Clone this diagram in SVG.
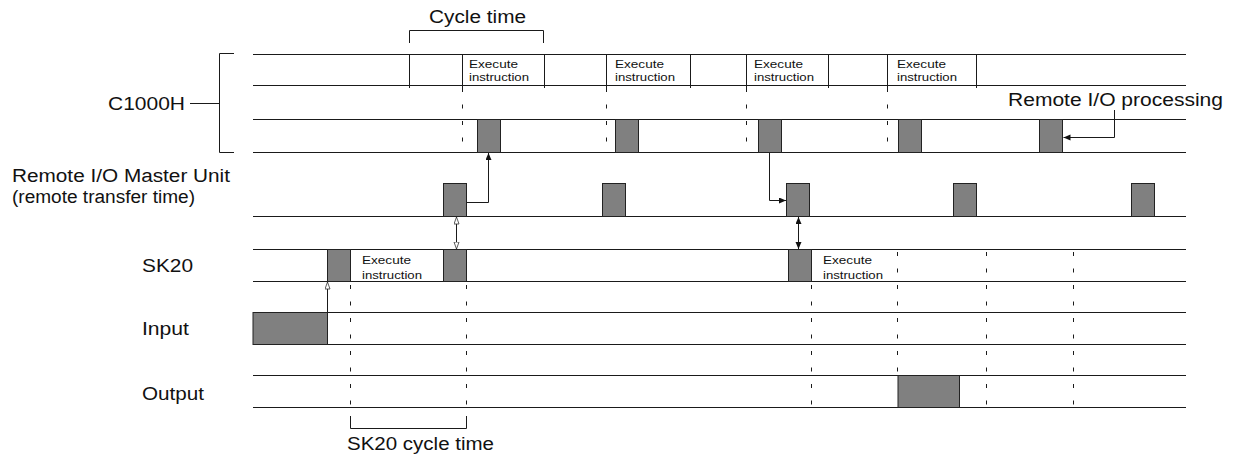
<svg xmlns="http://www.w3.org/2000/svg" width="1233" height="456" viewBox="0 0 1233 456">
<style>
  text { font-family: "Liberation Sans", Arial, sans-serif; fill: #111; }
  .lbl { font-size: 18px; }
  .sm { font-size: 11.5px; }
  .ln { stroke: #1a1a1a; stroke-width: 1; fill: none; }
  .dash { stroke: #1a1a1a; stroke-width: 1; fill: none; stroke-dasharray: 4 12.5; }
  .blk { fill: #808080; stroke: #222; stroke-width: 1; }
  .conn { stroke: #1a1a1a; stroke-width: 1; fill: none; }
</style>
<defs>
  <marker id="af" markerWidth="8" markerHeight="8" refX="7" refY="3" orient="auto" markerUnits="userSpaceOnUse">
    <path d="M0,0 L7,3 L0,6 z" fill="#111"/>
  </marker>
  <marker id="ao" markerWidth="9" markerHeight="8" refX="7.5" refY="3" orient="auto-start-reverse" markerUnits="userSpaceOnUse">
    <path d="M0.5,0.5 L7.5,3 L0.5,5.5 z" fill="#fff" stroke="#333" stroke-width="0.8"/>
  </marker>
  <marker id="afs" markerWidth="8" markerHeight="8" refX="7" refY="3" orient="auto-start-reverse" markerUnits="userSpaceOnUse">
    <path d="M0,0 L7,3 L0,6 z" fill="#111"/>
  </marker>
</defs>

<!-- Timeline rows -->
<g id="rows">
  <line class="ln" x1="253" y1="54.5" x2="1186" y2="54.5"/>
  <line class="ln" x1="253" y1="85.5" x2="1186" y2="85.5"/>
  <line class="ln" x1="253" y1="119.5" x2="1186" y2="119.5"/>
  <line class="ln" x1="253" y1="152.5" x2="1186" y2="152.5"/>
  <line class="ln" x1="253" y1="216.5" x2="1186" y2="216.5"/>
  <line class="ln" x1="253" y1="249.5" x2="1186" y2="249.5"/>
  <line class="ln" x1="253" y1="281.5" x2="1186" y2="281.5"/>
  <line class="ln" x1="253" y1="312.5" x2="1186" y2="312.5"/>
  <line class="ln" x1="253" y1="344.5" x2="1186" y2="344.5"/>
  <line class="ln" x1="253" y1="375.5" x2="1186" y2="375.5"/>
  <line class="ln" x1="253" y1="407.5" x2="1186" y2="407.5"/>
</g>

<!-- C1000H cycle segments -->
<g id="c1000h-cycles">
  <line class="ln" x1="409.5" y1="54" x2="409.5" y2="88"/>
  <line class="ln" x1="462.5" y1="54" x2="462.5" y2="88"/>
  <line class="ln" x1="544.5" y1="54" x2="544.5" y2="88"/>
  <line class="ln" x1="606.5" y1="54" x2="606.5" y2="88"/>
  <line class="ln" x1="690.5" y1="54" x2="690.5" y2="88"/>
  <line class="ln" x1="746.5" y1="54" x2="746.5" y2="88"/>
  <line class="ln" x1="828.5" y1="54" x2="828.5" y2="88"/>
  <line class="ln" x1="887.5" y1="54" x2="887.5" y2="88"/>
  <line class="ln" x1="976.5" y1="54" x2="976.5" y2="88"/>
  <text class="sm" x="469" y="68" textLength="49" lengthAdjust="spacingAndGlyphs">Execute</text>
  <text class="sm" x="469" y="80.5" textLength="60" lengthAdjust="spacingAndGlyphs">instruction</text>
  <text class="sm" x="615" y="68" textLength="49" lengthAdjust="spacingAndGlyphs">Execute</text>
  <text class="sm" x="615" y="80.5" textLength="60" lengthAdjust="spacingAndGlyphs">instruction</text>
  <text class="sm" x="754" y="68" textLength="49" lengthAdjust="spacingAndGlyphs">Execute</text>
  <text class="sm" x="754" y="80.5" textLength="60" lengthAdjust="spacingAndGlyphs">instruction</text>
  <text class="sm" x="897" y="68" textLength="49" lengthAdjust="spacingAndGlyphs">Execute</text>
  <text class="sm" x="897" y="80.5" textLength="60" lengthAdjust="spacingAndGlyphs">instruction</text>
</g>

<!-- Dashed guide lines -->
<g id="guides">
  <line class="dash" x1="462.5" y1="88" x2="462.5" y2="152"/>
  <line class="dash" x1="606.5" y1="88" x2="606.5" y2="152"/>
  <line class="dash" x1="746.5" y1="88" x2="746.5" y2="152"/>
  <line class="dash" x1="887.5" y1="88" x2="887.5" y2="152"/>
  <line class="dash" x1="350.5" y1="285" x2="350.5" y2="412"/>
  <line class="dash" x1="466.5" y1="285" x2="466.5" y2="412"/>
  <line class="dash" x1="811.5" y1="285" x2="811.5" y2="412"/>
  <line class="dash" x1="897.5" y1="252" x2="897.5" y2="375"/>
  <line class="dash" x1="986.5" y1="252" x2="986.5" y2="412"/>
  <line class="dash" x1="1073.5" y1="252" x2="1073.5" y2="412"/>
</g>

<!-- Brackets -->
<g id="cycle-time">
  <path class="ln" d="M409.5,43 V30.5 H543.5 V43"/>
  <text class="lbl" x="429" y="23" textLength="97" lengthAdjust="spacingAndGlyphs">Cycle time</text>
</g>
<g id="sk20-cycle-time">
  <path class="ln" d="M350.5,416 V428.5 H466.5 V416"/>
  <text class="lbl" x="347" y="449.5" textLength="147" lengthAdjust="spacingAndGlyphs">SK20 cycle time</text>
</g>

<!-- Labels -->
<g id="c1000h">
  <path class="ln" d="M234,53.5 H219.5 V152.5 H234"/>
  <line class="ln" x1="190" y1="103.5" x2="219.5" y2="103.5"/>
  <text class="lbl" x="108" y="109.5" textLength="77" lengthAdjust="spacingAndGlyphs">C1000H</text>
</g>
<g id="master-unit">
  <text class="lbl" x="12" y="182" textLength="218" lengthAdjust="spacingAndGlyphs">Remote I/O Master Unit</text>
  <text class="lbl" x="12" y="203" textLength="183" lengthAdjust="spacingAndGlyphs">(remote transfer time)</text>
</g>
<g id="sk20">
  <text class="lbl" x="142" y="272" textLength="51" lengthAdjust="spacingAndGlyphs">SK20</text>
  <text class="sm" x="362" y="264" textLength="49" lengthAdjust="spacingAndGlyphs">Execute</text>
  <text class="sm" x="362" y="279" textLength="60" lengthAdjust="spacingAndGlyphs">instruction</text>
  <text class="sm" x="823" y="264" textLength="49" lengthAdjust="spacingAndGlyphs">Execute</text>
  <text class="sm" x="823" y="279" textLength="60" lengthAdjust="spacingAndGlyphs">instruction</text>
</g>
<g id="input">
  <text class="lbl" x="142" y="335" textLength="47" lengthAdjust="spacingAndGlyphs">Input</text>
</g>
<g id="output">
  <text class="lbl" x="142" y="400" textLength="62" lengthAdjust="spacingAndGlyphs">Output</text>
</g>
<g id="remote-io-processing">
  <text class="lbl" x="1008" y="105.5" textLength="215" lengthAdjust="spacingAndGlyphs">Remote I/O processing</text>
</g>

<!-- Blocks -->
<g id="c1000h-blocks">
  <rect class="blk" x="477.5" y="119.5" width="23" height="33"/>
  <rect class="blk" x="615.5" y="119.5" width="23" height="33"/>
  <rect class="blk" x="758.5" y="119.5" width="23" height="33"/>
  <rect class="blk" x="898.5" y="119.5" width="23" height="33"/>
  <rect class="blk" x="1039.5" y="119.5" width="23" height="33"/>
</g>
<g id="master-blocks">
  <rect class="blk" x="443.5" y="183.5" width="23" height="33"/>
  <rect class="blk" x="602.5" y="183.5" width="23" height="33"/>
  <rect class="blk" x="786.5" y="183.5" width="23" height="33"/>
  <rect class="blk" x="953.5" y="183.5" width="23" height="33"/>
  <rect class="blk" x="1131.5" y="183.5" width="23" height="33"/>
</g>
<g id="sk20-blocks">
  <rect class="blk" x="327.5" y="249.5" width="23" height="32"/>
  <rect class="blk" x="443.5" y="249.5" width="23" height="32"/>
  <rect class="blk" x="788.5" y="249.5" width="23" height="32"/>
</g>
<g id="input-block">
  <rect class="blk" x="253" y="312.5" width="74.5" height="32"/>
</g>
<g id="output-block">
  <rect class="blk" x="898" y="375.5" width="61.5" height="32"/>
</g>

<!-- Connectors -->
<g id="connectors">
  <path class="conn" d="M1114.5,110 V137.5 H1063.5" marker-end="url(#af)"/>
  <path class="conn" d="M467,202.5 H488.5 V153" marker-end="url(#af)"/>
  <path class="conn" d="M769.5,153 V200.5 H786" marker-end="url(#af)"/>
  <line class="conn" x1="456.5" y1="217" x2="456.5" y2="249" marker-start="url(#ao)" marker-end="url(#ao)"/>
  <line class="conn" x1="798.5" y1="217" x2="798.5" y2="249" marker-start="url(#afs)" marker-end="url(#afs)"/>
  <line class="conn" x1="327.5" y1="312" x2="327.5" y2="282" marker-end="url(#ao)"/>
</g>
</svg>
